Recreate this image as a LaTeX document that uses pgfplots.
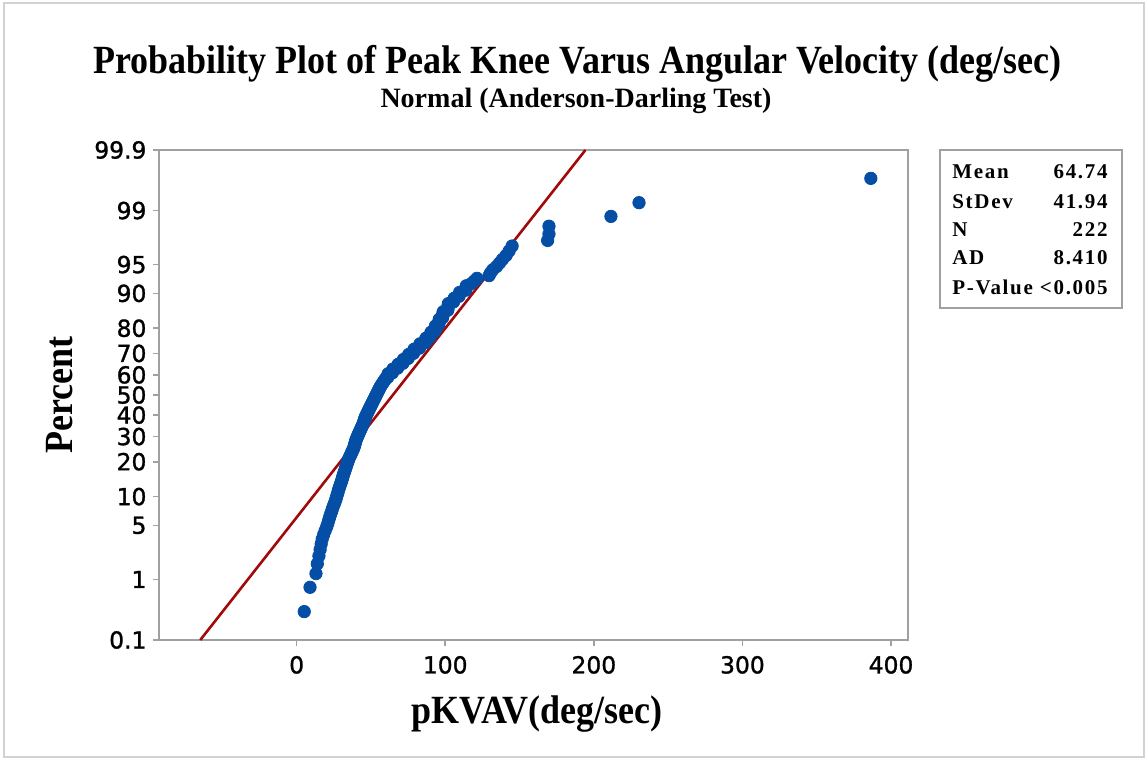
\documentclass[border=0pt]{standalone}
\usepackage{pgfplots}
\pgfplotsset{compat=1.18}
\usepackage{fontspec}
\setmainfont{Liberation Serif}
\newfontfamily\ticksf[FakeBold=1.2]{DejaVu Sans}
\newfontfamily\statfont[LetterSpace=8]{Liberation Serif}
\definecolor{dotblue}{RGB}{5,78,165}
\definecolor{fitred}{RGB}{160,10,10}
\definecolor{axgray}{RGB}{160,160,160}
\begin{document}
\begin{tikzpicture}[x=1pt,y=1pt]
\path[use as bounding box] (0,0) rectangle (574,379.5);
\draw[gray!35, line width=0.6pt] (2,1) rectangle (572,378);
% titles
\node[anchor=base, inner sep=0] at (288.75,342.5) {\scalebox{0.9}[1]{\fontsize{20}{24}\selectfont\bfseries Probability Plot of Peak Knee Varus Angular Velocity (deg/sec)}};
\node[anchor=base, inner sep=0] at (288,325.5) {\fontsize{14}{16}\selectfont\bfseries Normal (Anderson-Darling Test)};
\node[rotate=90, inner sep=0] at (30,182) {\scalebox{0.9}[1]{\fontsize{20}{24}\selectfont\bfseries Percent}};
\node[anchor=base, inner sep=0] at (268.5,17.5) {\scalebox{0.9}[1]{\fontsize{20}{24}\selectfont\bfseries pKVAV(deg/sec)}};
\begin{axis}[
  at={(79.75pt,59.5pt)}, anchor=south west,
  scale only axis, width=374.25pt, height=245pt,
  xmin=-92.3, xmax=411.4, ymin=-3.0902, ymax=3.0902,
  axis line style={axgray, line width=1pt},
  tick pos=left, tick align=outside,
  major tick length=3pt,
  every tick/.style={axgray, line width=0.8pt},
  xtick={0,100,200,300,400},
  xticklabels={0,100,200,300,400},
  ytick={-3.0902,-2.3263,-1.6449,-1.2816,-0.8416,-0.5244,-0.2533,0,0.2533,0.5244,0.8416,1.2816,1.6449,2.3263,3.0902},
  yticklabels={0.1,1,5,10,20,30,40,50,60,70,80,90,95,99,99.9},
  tick label style={font=\ticksf\fontsize{11.7}{12}\selectfont},
  xticklabel style={yshift=-1.5pt},
  clip=false,
]
\addplot[fitred, line width=1.3pt] coordinates {(-64.86,-3.0902) (194.34,3.0902)};
\addplot[only marks, mark=*, mark size=3.1pt, dotblue, mark options={draw=dotblue, fill=dotblue}] coordinates {
(5.1,-2.7323) (9.0,-2.4255) (13.0,-2.2526) (13.9,-2.1289) (15.0,-2.0307)
(15.8,-1.9494) (16.5,-1.8789) (17.2,-1.8169) (18.2,-1.7610) (19.2,-1.7102)
(20.2,-1.6635) (21.0,-1.6201) (21.6,-1.5796) (22.2,-1.5415) (22.8,-1.5056)
(23.5,-1.4714) (24.0,-1.4389) (24.6,-1.4077) (25.2,-1.3779) (25.8,-1.3493)
(26.3,-1.3218) (26.7,-1.2953) (27.1,-1.2696) (27.5,-1.2448) (27.9,-1.2207)
(28.2,-1.1973) (28.6,-1.1746) (29.0,-1.1524) (29.4,-1.1308) (29.8,-1.1097)
(30.2,-1.0890) (30.5,-1.0689) (30.8,-1.0491) (31.1,-1.0298) (31.4,-1.0108)
(31.7,-0.9922) (32.1,-0.9739) (32.4,-0.9559) (32.7,-0.9383) (33.0,-0.9209)
(33.3,-0.9038) (33.6,-0.8870) (33.9,-0.8704) (34.2,-0.8541) (34.5,-0.8380)
(34.8,-0.8221) (35.1,-0.8064) (35.4,-0.7909) (35.8,-0.7756) (36.2,-0.7605)
(36.6,-0.7455) (36.9,-0.7307) (37.3,-0.7161) (37.6,-0.7016) (38.0,-0.6873)
(38.3,-0.6731) (38.6,-0.6590) (38.8,-0.6451) (39.0,-0.6313) (39.2,-0.6176)
(39.4,-0.6040) (39.6,-0.5905) (39.8,-0.5771) (40.0,-0.5639) (40.3,-0.5507)
(40.6,-0.5376) (40.9,-0.5247) (41.2,-0.5118) (41.5,-0.4990) (41.8,-0.4862)
(42.1,-0.4736) (42.4,-0.4610) (42.7,-0.4485) (43.0,-0.4361) (43.3,-0.4237)
(43.6,-0.4114) (43.9,-0.3992) (44.2,-0.3870) (44.5,-0.3749) (44.8,-0.3628)
(45.0,-0.3508) (45.2,-0.3389) (45.4,-0.3270) (45.6,-0.3151) (45.8,-0.3033)
(46.0,-0.2915) (46.2,-0.2797) (46.5,-0.2680) (46.8,-0.2564) (47.1,-0.2447)
(47.4,-0.2331) (47.7,-0.2216) (48.0,-0.2100) (48.3,-0.1985) (48.6,-0.1871)
(48.9,-0.1756) (49.2,-0.1642) (49.5,-0.1527) (49.8,-0.1414) (50.1,-0.1300)
(50.4,-0.1186) (50.7,-0.1073) (51.0,-0.0960) (51.3,-0.0846) (51.6,-0.0733)
(51.9,-0.0620) (52.2,-0.0507) (52.5,-0.0395) (52.8,-0.0282) (53.1,-0.0169)
(53.4,-0.0056)
(53.7,0.0056) (54.0,0.0169) (54.3,0.0282) (54.6,0.0395) (54.9,0.0507)
(55.2,0.0620) (55.5,0.0733) (55.8,0.0846) (56.1,0.0960) (56.4,0.1073)
(56.8,0.1186) (57.2,0.1300) (57.6,0.1414) (58.0,0.1527) (58.4,0.1642)
(58.8,0.1756) (59.2,0.1871) (59.6,0.1985) (60.0,0.2100) (61.2,0.2216)
(61.3,0.2331) (61.4,0.2447) (61.5,0.2564) (61.6,0.2680) (64.4,0.2797)
(64.5,0.2915) (64.6,0.3033) (64.7,0.3151) (64.8,0.3270) (67.9,0.3389)
(68.0,0.3508) (68.1,0.3628) (68.2,0.3749) (68.3,0.3870) (71.5,0.3992)
(71.6,0.4114) (71.7,0.4237) (71.8,0.4361) (71.9,0.4485) (75.0,0.4610)
(75.1,0.4736) (75.2,0.4862) (75.3,0.4990) (75.4,0.5118) (78.6,0.5247)
(78.7,0.5376) (78.8,0.5507) (78.9,0.5639) (79.0,0.5771) (82.6,0.5905)
(82.7,0.6040) (82.8,0.6176) (82.9,0.6313) (83.0,0.6451) (86.6,0.6590)
(86.7,0.6731) (86.8,0.6873) (86.9,0.7016) (87.0,0.7161) (90.0,0.7307)
(90.1,0.7455) (90.2,0.7605) (90.3,0.7756) (90.4,0.7909) (93.0,0.8064)
(93.1,0.8221) (93.2,0.8380) (93.3,0.8541) (93.4,0.8704) (95.6,0.8870)
(95.7,0.9038) (95.8,0.9209) (95.9,0.9383) (96.0,0.9559) (98.2,0.9739)
(98.3,0.9922) (98.4,1.0108) (98.5,1.0298) (98.6,1.0491) (101.7,1.0689)
(101.8,1.0890) (101.9,1.1097) (102.0,1.1308) (102.1,1.1524) (105.6,1.1746)
(105.8,1.1973) (106.0,1.2207) (109.3,1.2448) (109.5,1.2696) (109.7,1.2953)
(113.8,1.3218) (114.0,1.3493) (114.2,1.3779) (117.8,1.4077) (119.6,1.4389)
(121.4,1.4714) (129.5,1.5056) (130.5,1.5415) (132.0,1.5796) (134.5,1.6201)
(136.5,1.6635) (138.5,1.7102) (141.0,1.7610) (143.0,1.8169) (145.0,1.8789)
(168.9,1.9494) (169.8,2.0307) (169.8,2.1289) (211.5,2.2526) (230.4,2.4255)
(386.4,2.7323)
};
\end{axis}
% statistics box
\draw[axgray, line width=1pt] (470,225.5) rectangle (561,304.5);
\begin{scope}[every node/.style={inner sep=0}]
\node[anchor=base west] at (476,290.35) {\statfont\bfseries\fontsize{10.5}{12}\selectfont Mean};
\node[anchor=base east] at (554,290.35) {\statfont\bfseries\fontsize{10.5}{12}\selectfont 64.74};
\node[anchor=base west] at (476,275.35) {\statfont\bfseries\fontsize{10.5}{12}\selectfont StDev};
\node[anchor=base east] at (554,275.35) {\statfont\bfseries\fontsize{10.5}{12}\selectfont 41.94};
\node[anchor=base west] at (476,261.15) {\statfont\bfseries\fontsize{10.5}{12}\selectfont N};
\node[anchor=base east] at (554,261.15) {\statfont\bfseries\fontsize{10.5}{12}\selectfont 222};
\node[anchor=base west] at (476,247) {\statfont\bfseries\fontsize{10.5}{12}\selectfont AD};
\node[anchor=base east] at (554,247) {\statfont\bfseries\fontsize{10.5}{12}\selectfont 8.410};
\node[anchor=base west] at (476,232) {\statfont\bfseries\fontsize{10.5}{12}\selectfont P-Value};
\node[anchor=base east] at (554,232) {\statfont\bfseries\fontsize{10.5}{12}\selectfont <0.005};
\end{scope}
\end{tikzpicture}
\end{document}
